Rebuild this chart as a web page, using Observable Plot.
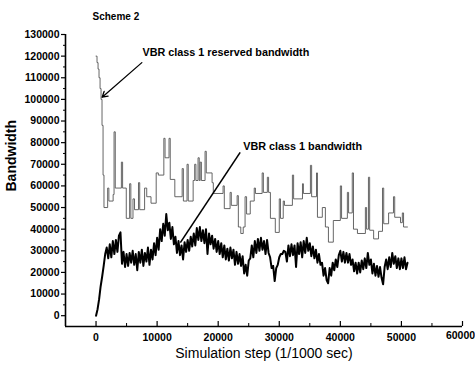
<!DOCTYPE html>
<html>
<head>
<meta charset="utf-8">
<script src="https://cdn.jsdelivr.net/npm/d3@7"></script>
<script src="https://cdn.jsdelivr.net/npm/@observablehq/plot@0.6"></script>
<style>
  html, body { margin: 0; padding: 0; background: white; }
</style>
</head>
<body>
<div id="chart"></div>
<script>
// ---- data ----
const titleText = "Scheme 2";
const xLabel = "Simulation step (1/1000 sec)";
const yLabel = "Bandwidth";
const reservedLabel = "VBR class 1 reserved bandwidth";
const bandwidthLabel = "VBR class 1 bandwidth";

const xTicks = [0, 10000, 20000, 30000, 40000, 50000];
const xLastTick = [60000];
const xMinorTicks = [5000, 15000, 25000, 35000, 45000, 55000];
const yTicks = [0, 10000, 20000, 30000, 40000, 50000, 60000, 70000, 80000, 90000, 100000, 110000, 120000, 130000];
const yMinorTicks = [5000, 15000, 25000, 35000, 45000, 55000, 65000, 75000, 85000, 95000, 105000, 115000, 125000];

// VBR class 1 reserved bandwidth (step changes)
const reservedStep = [0, 160, 330, 490, 660, 820, 980, 1150, 1300, 1900, 2100, 2800, 2950, 3150, 4150, 4350, 4950, 5500, 5700, 6050, 6300, 6950, 7150, 7950, 8300, 9000, 9850, 10200, 11100, 11300, 11950, 12150, 12900, 14100, 14300, 14900, 15100, 15900, 16150, 16350, 16700, 16900, 17050, 17250, 17850, 18050, 19000, 19200, 20800, 21000, 21950, 22150, 23100, 23300, 23700, 24100, 24400, 24650, 25250, 25900, 26100, 27200, 27400, 28050, 28250, 28550, 29350, 30000, 30200, 30650, 30850, 32150, 32350, 33800, 33950, 35100, 35300, 36100, 36250, 37050, 37550, 38050, 38850, 40000, 40200, 41150, 41350, 41950, 42150, 42800, 44100, 44300, 44600, 44800, 45450, 46250, 46900, 47100, 47900, 48700, 48900, 49850, 50150, 50350, 51000];
const reservedValue = [120000, 117000, 114000, 110000, 105000, 100000, 88000, 65000, 50000, 59000, 53000, 56000, 85000, 59000, 71000, 59000, 45000, 61000, 45000, 54000, 49000, 61500, 49000, 59000, 55000, 52000, 66000, 65000, 82000, 73000, 82000, 63000, 55000, 68000, 53000, 70000, 53000, 62500, 70000, 62500, 73000, 62500, 71000, 62500, 76000, 66000, 61500, 56500, 60000, 49500, 57000, 51000, 55500, 41000, 38000, 41000, 55000, 47000, 53000, 59000, 56500, 66000, 57000, 64000, 57000, 45000, 38500, 54000, 45000, 53000, 51000, 65000, 54000, 61000, 56500, 69500, 55000, 66000, 45500, 50000, 41000, 34000, 44000, 60000, 45000, 57000, 47500, 66000, 40000, 38000, 50000, 40000, 64000, 39500, 35500, 39000, 59000, 42500, 47500, 55000, 45500, 43000, 47500, 41000, 41000];

// VBR class 1 bandwidth, sampled every 250 steps from step 0
const bandwidthInterval = 250;
const bandwidthValue = [
  0, 3000, 7500, 13500,
  18000, 23000, 28500, 31500,
  26500, 33000, 27000, 34500,
  28500, 35000, 29500, 37000,
  38500, 24000, 29500, 22500,
  28500, 23000, 29000, 24500,
  30000, 23500, 28500, 21000,
  29500, 24500, 30500, 23000,
  29000, 25000, 31500, 23500,
  30500, 26000, 33500, 28000,
  36000, 30500, 40000, 34500,
  42500, 37000, 47000, 39500,
  43000, 35500, 41000, 33000,
  36500, 29000, 34500, 28000,
  32500, 26000, 34000, 29500,
  35000, 30000, 36500, 32000,
  38000, 32500, 40500, 35000,
  41000, 34500, 39500, 33500,
  40000, 28500, 38000, 33000,
  37000, 31000, 35500, 29500,
  34500, 28500, 33500, 27000,
  32500, 26000, 31000, 25500,
  31500, 26500, 30500, 23500,
  29500, 24000, 28500, 23000,
  27500, 19500, 23500, 18500,
  25500, 26500, 32500, 27000,
  34500, 29000, 35500, 30000,
  36000, 30500, 34500, 28500,
  35000, 29000, 27000, 22000,
  23000, 16000, 22000, 23500,
  27000, 28500, 28500, 30000,
  29500, 25000, 32500, 27500,
  33000, 28000, 32500, 22500,
  33500, 28500, 34000, 27000,
  34500, 29000, 36000, 30000,
  33500, 27500, 32000, 26500,
  30500, 24500, 28500, 23500,
  24500, 18500, 22000, 16500,
  15000, 22000, 18500, 24500,
  21000, 26000, 22500, 28000,
  30000, 25000, 29500, 24500,
  29000, 24500, 28500, 23500,
  26000, 20500, 24500, 19500,
  24500, 20000, 25500, 21500,
  26500, 22000, 29000, 23500,
  26000, 19500, 24000, 18500,
  23000, 18000, 22500, 17500,
  14500, 22500, 26000, 21500,
  27000, 22500, 29000, 24000,
  27500, 22000, 26500, 21500,
  26500, 22000, 27000, 21500,
  24500
];

// annotation anchor points (data coordinates)
const reservedArrow = {x1: 7500, y1: 117000, x2: 1000, y2: 101000};
const bandwidthPointer = {x1: 23600, y1: 75500, x2: 13800, y2: 33800};
const reservedLabelPos = {x: 7600, y: 121500};
const bandwidthLabelPos = {x: 24100, y: 78000};

// ---- build tables ----
const reserved = reservedStep.map((s, i) => ({step: s, value: reservedValue[i]}));
const bandwidth = bandwidthValue.map((v, i) => ({step: i * bandwidthInterval, value: v}));

const W = 475, H = 370;
const mL = 65, mR = 13, mT = 34, mB = 44;
const frameH = H - mT - mB;
const font = "'Liberation Sans', Arial, Helvetica, sans-serif";

const chart = Plot.plot({
  width: W,
  height: H,
  marginLeft: mL,
  marginRight: mR,
  marginTop: mT,
  marginBottom: mB,
  style: {fontFamily: font, fontSize: "10.5px", background: "white", color: "black"},
  x: {domain: [-5000, 60000], label: null},
  y: {domain: [-5000, 130000], label: null},
  marks: [
    // axes lines
    Plot.ruleX([-5000], {stroke: "black", strokeWidth: 1.6}),
    Plot.ruleY([-5000], {stroke: "black", strokeWidth: 1.6}),
    // x ticks (inward)
    Plot.tickX(xTicks.concat(xLastTick), {x: d => d, insetTop: frameH - 5, stroke: "black", strokeWidth: 1.2}),
    Plot.tickX(xMinorTicks, {x: d => d, insetTop: frameH - 3, stroke: "black", strokeWidth: 1}),
    Plot.axisX(xTicks, {tickSize: 0, tickPadding: 7, tickFormat: d => String(d), fontWeight: "bold", fontSize: 10.5}),
    Plot.text(xLastTick, {x: d => d, frameAnchor: "bottom", dy: 12, dx: -2, text: d => String(d), fontWeight: "bold", fontSize: 10.5}),
    // y ticks
    Plot.axisY(yTicks, {tickSize: 4, tickPadding: 2, tickFormat: d => String(d), fontWeight: "bold", fontSize: 10.5, strokeWidth: 1.2}),
    Plot.axisY(yMinorTicks, {tickSize: 2, text: null, strokeWidth: 1}),
    // data
    Plot.line(reserved, {x: "step", y: "value", curve: "step-after", stroke: "#555", strokeWidth: 0.9}),
    Plot.line(bandwidth, {x: "step", y: "value", stroke: "black", strokeWidth: 2}),
    // annotations
    Plot.arrow([reservedArrow], {x1: "x1", y1: "y1", x2: "x2", y2: "y2", stroke: "black", strokeWidth: 1.3, headLength: 7}),
    Plot.link([bandwidthPointer], {x1: "x1", y1: "y1", x2: "x2", y2: "y2", stroke: "black", strokeWidth: 1.6}),
    Plot.text([reservedLabel], {x: () => reservedLabelPos.x, y: () => reservedLabelPos.y, text: d => d, textAnchor: "start", fontSize: 10.8, fontWeight: "bold"}),
    Plot.text([bandwidthLabel], {x: () => bandwidthLabelPos.x, y: () => bandwidthLabelPos.y, text: d => d, textAnchor: "start", fontSize: 10.8, fontWeight: "bold"}),
    // labels & title
    Plot.text([yLabel], {frameAnchor: "left", dx: -54, dy: 11, rotate: -90, text: d => d, fontSize: 14, fontWeight: "bold"}),
    Plot.text([xLabel], {frameAnchor: "bottom", dy: 31, text: d => d, fontSize: 14}),
    Plot.text([titleText], {frameAnchor: "top-left", dx: 27, dy: -22, text: d => d, fontSize: 10, fontWeight: "bold"})
  ]
});
document.getElementById("chart").appendChild(chart);
</script>
</body>
</html>
